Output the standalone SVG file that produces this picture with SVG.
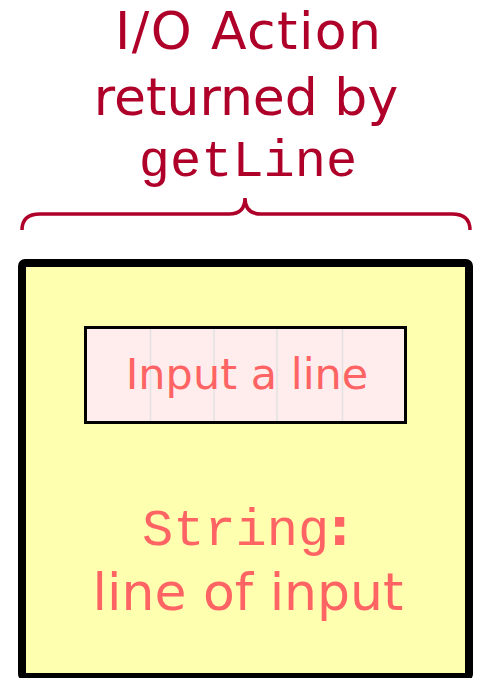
<svg xmlns="http://www.w3.org/2000/svg" width="477" height="678" viewBox="0 0 477 678">
<style>
.title{font-family:"DejaVu Sans",Verdana,sans-serif;font-size:52px;fill:#AF002A;text-anchor:middle}
.mono{font-family:"Liberation Mono","Courier New",monospace}
.lbl{font-family:"DejaVu Sans",Verdana,sans-serif;fill:#FF6464;text-anchor:middle}
</style>
<rect width="477" height="678" fill="#ffffff"/>
<g id="title">
<text class="title" x="248" y="49" textLength="266" lengthAdjust="spacing">I/O Action</text>
<text class="title" x="246" y="115">returned by</text>
<text class="title mono" x="248" y="176" font-size="53">getLine</text>
</g>
<g id="connectors">
<path d="M22,230 Q22,214 40,214 H229 Q245,214 245,198 Q245,214 261,214 H452 Q470,214 470,230" fill="none" stroke="#AF002A" stroke-width="3.5"/>
</g>
<g id="action">
<rect x="22" y="263" width="447" height="414" rx="3" fill="#FFFFB0" stroke="#000000" stroke-width="8"/>
</g>
<g id="input">
<rect x="85.5" y="327.5" width="320" height="95" fill="#FFEDED"/>
<g stroke="#E2E2E2" stroke-width="1.5">
<line x1="150.5" y1="328" x2="150.5" y2="422"/>
<line x1="214" y1="328" x2="214" y2="422"/>
<line x1="277" y1="328" x2="277" y2="422"/>
<line x1="342.5" y1="328" x2="342.5" y2="422"/>
</g>
<rect x="85.5" y="327.5" width="320" height="95" fill="none" stroke="#000000" stroke-width="3"/>
<text class="lbl" x="247" y="389" font-size="43">Input a line</text>
</g>
<g id="result">
<text class="lbl" x="246" y="545" font-size="52"><tspan class="mono">String</tspan><tspan font-weight="bold">:</tspan></text>
<text class="lbl" x="248" y="610" font-size="52">line of input</text>
</g>
</svg>
